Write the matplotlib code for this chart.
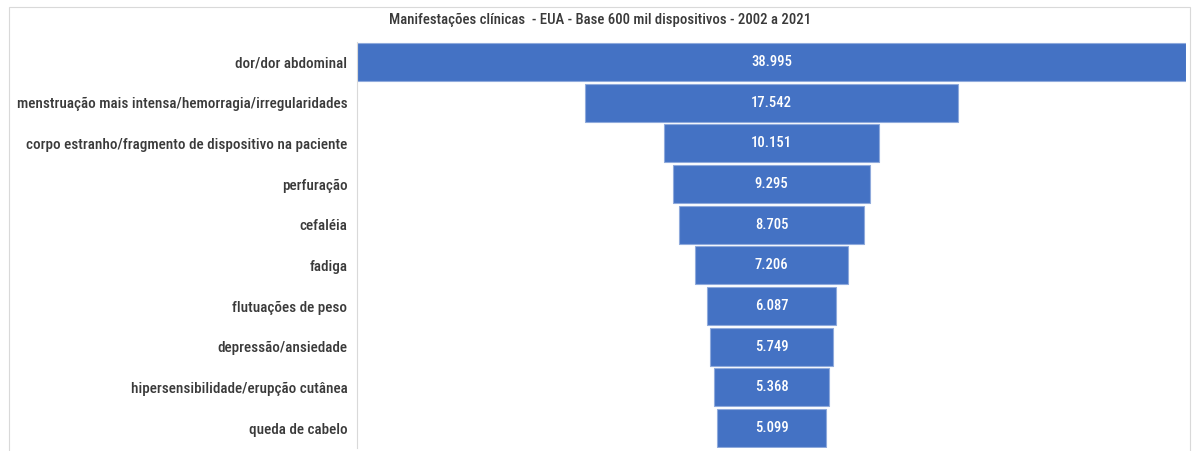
import matplotlib
matplotlib.use('Agg')
import matplotlib.pyplot as plt
from matplotlib.patches import Rectangle

plt.rcParams['font.family'] = ['Roboto Condensed', 'Lato', 'DejaVu Sans']

# dados do gráfico de funil
categorias = ['dor/dor abdominal',
              'menstruação mais intensa/hemorragia/irregularidades',
              'corpo estranho/fragmento de dispositivo na paciente',
              'perfuração',
              'cefaléia',
              'fadiga',
              'flutuações de peso',
              'depressão/ansiedade',
              'hipersensibilidade/erupção cutânea',
              'queda de cabelo']
valores = [38995, 17542, 10151, 9295, 8705, 7206, 6087, 5749, 5368, 5099]
rotulos = ['38.995', '17.542', '10.151', '9.295', '8.705', '7.206', '6.087', '5.749', '5.368', '5.099']
titulo = 'Manifestações clínicas  - EUA - Base 600 mil dispositivos - 2002 a 2021'

fig = plt.figure(figsize=(11.98, 4.51), dpi=100)
ax = fig.add_axes([0.298, 0.0058, 0.692, 0.902])

y = list(range(len(categorias)))
esq = [-v / 2 for v in valores]
ax.barh(y, valores, left=esq, height=0.93, color='#4472C4',
        edgecolor='#8FAADC', linewidth=0.8)
for yi, r in zip(y, rotulos):
    ax.text(0, yi, r, ha='center', va='center', color='white', fontsize=10.5,
            fontweight='medium')

m = max(valores) / 2
ax.set_xlim(-m, m)
ax.set_ylim(len(categorias) - 0.5, -0.5)
ax.set_yticks(y)
ax.set_yticklabels(categorias, fontsize=10.9, color='#3A3A3A', fontweight='medium')
ax.tick_params(axis='y', length=0, pad=7)
ax.set_xticks([])
for s in ['top', 'right', 'bottom']:
    ax.spines[s].set_visible(False)
ax.spines['left'].set_color('#D9D9D9')
ax.spines['left'].set_linewidth(0.8)

fig.text(600 / 1198, 1 - 20 / 451, titulo, ha='center', va='center',
         fontsize=10.6, color='#3A3A3A', fontweight='medium')

# moldura do gráfico
fig.patches.append(Rectangle((9 / 1198, -0.05), 1181 / 1198, 1.05 - 7 / 451,
                             transform=fig.transFigure, fill=False,
                             edgecolor='#D9D9D9', linewidth=0.8))

fig.savefig('out.png', dpi=100)
